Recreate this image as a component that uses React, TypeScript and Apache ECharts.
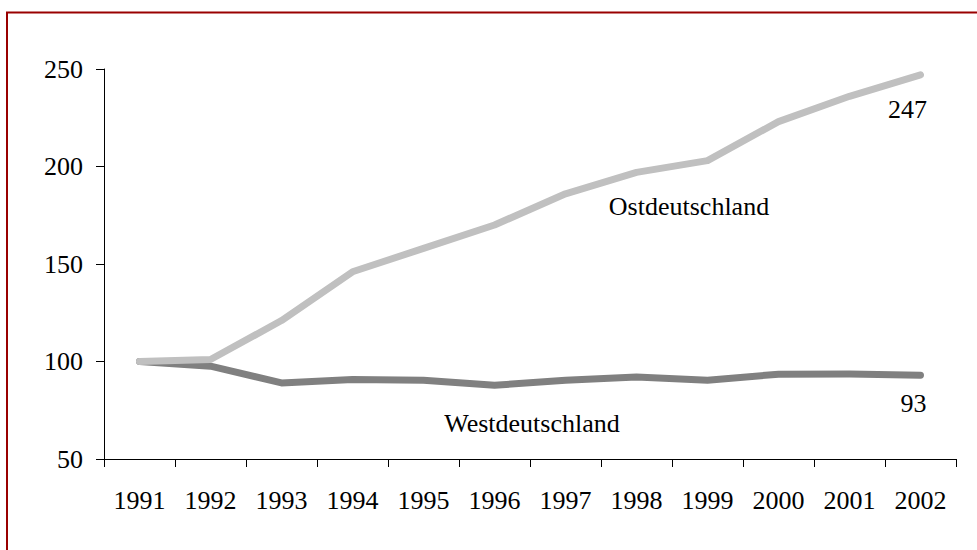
import React, { useEffect, useRef } from "react";
import * as echarts from "echarts";

const years = ["1991", "1992", "1993", "1994", "1995", "1996", "1997", "1998", "1999", "2000", "2001", "2002"];
const ostValues = [100, 101, 121, 146, 158, 170, 186, 197, 203, 223, 236, 247];
const westValues = [100, 97.6, 89, 90.8, 90.4, 87.8, 90.4, 92.1, 90.4, 93.5, 93.6, 93];
const yTicks = { min: 50, max: 250, interval: 50 };

const FONT = "'Liberation Serif', 'Times New Roman', serif";

export default function App() {
  const ref = useRef<HTMLDivElement>(null);
  useEffect(() => {
    if (!ref.current) return;
    const chart = echarts.init(ref.current, null, { renderer: "svg" });
    chart.setOption({
      animation: false,
      backgroundColor: "#ffffff",
      grid: { left: 104, right: 21, top: 69, bottom: 91, containLabel: false },
      xAxis: {
        type: "category",
        data: years,
        boundaryGap: true,
        axisLine: { show: true, lineStyle: { color: "#000", width: 1 } },
        axisTick: { show: true, length: 8, alignWithLabel: false, lineStyle: { color: "#000" } },
        axisLabel: { color: "#000", fontFamily: FONT, fontSize: 26, margin: 28, interval: 0 },
        splitLine: { show: false },
      },
      yAxis: {
        type: "value",
        min: yTicks.min,
        max: yTicks.max,
        interval: yTicks.interval,
        axisLine: { show: true, lineStyle: { color: "#000", width: 1 } },
        axisTick: { show: true, length: 8, lineStyle: { color: "#000" } },
        axisLabel: { color: "#000", fontFamily: FONT, fontSize: 26, margin: 21 },
        splitLine: { show: false },
      },
      series: [
        {
          name: "Westdeutschland",
          type: "line",
          data: westValues,
          symbol: "none",
          lineStyle: { color: "#808080", width: 7, cap: "round", join: "round" },
          endLabel: {
            show: true,
            formatter: (p: any) => String(Math.round(p.value)),
            distance: 0,
            offset: [-7, 28],
            align: "center",
            verticalAlign: "middle",
            color: "#000",
            fontFamily: FONT,
            fontSize: 26,
          },
          z: 2,
        },
        {
          name: "Ostdeutschland",
          type: "line",
          data: ostValues,
          symbol: "none",
          lineStyle: { color: "#c0c0c0", width: 7, cap: "round", join: "round" },
          endLabel: {
            show: true,
            formatter: (p: any) => String(p.value),
            distance: 0,
            offset: [-13, 35],
            align: "center",
            verticalAlign: "middle",
            color: "#000",
            fontFamily: FONT,
            fontSize: 26,
          },
          z: 3,
        },
      ],
      graphic: [
        {
          type: "rect",
          shape: { x: 7, y: 12.5, width: 1000, height: 600 },
          style: { fill: "none", stroke: "#990000", lineWidth: 2 },
          silent: true,
        },
        {
          type: "text",
          x: 689,
          y: 206,
          style: { text: "Ostdeutschland", fill: "#000", font: `26px ${FONT}`, textAlign: "center", textVerticalAlign: "middle" },
        },
        {
          type: "text",
          x: 532,
          y: 423,
          style: { text: "Westdeutschland", fill: "#000", font: `26px ${FONT}`, textAlign: "center", textVerticalAlign: "middle" },
        },
      ],
    });
    return () => chart.dispose();
  }, []);
  return <div ref={ref} style={{ position: "fixed", left: 0, top: 0, width: 977, height: 550 }} />;
}
